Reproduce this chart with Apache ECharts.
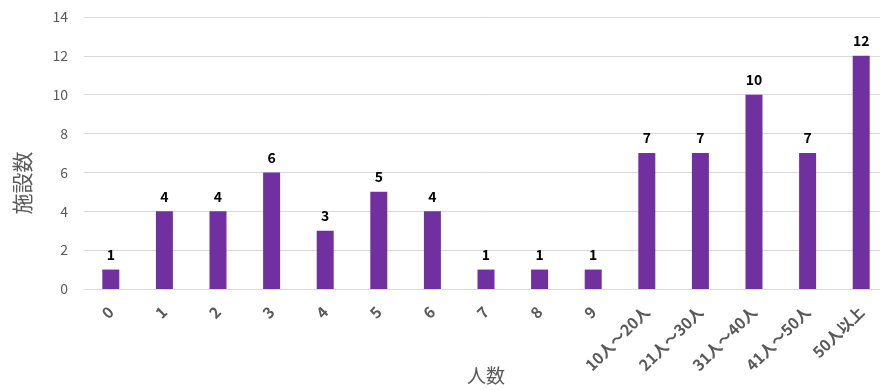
<!DOCTYPE html>
<html>
<head>
<meta charset="utf-8">
<script src="https://cdn.jsdelivr.net/npm/echarts@6/dist/echarts.min.js"></script>
<style>
  html, body { margin: 0; padding: 0; background: #fff; }
  #chart { width: 880px; height: 390px; }
</style>
</head>
<body>
<div id="chart"></div>
<script>
// 人数別の施設数
const categories = ['0', '1', '2', '3', '4', '5', '6', '7', '8', '9',
  '10人～20人', '21人～30人', '31人～40人', '41人～50人', '50人以上'];
const facilityCounts = [1, 4, 4, 6, 3, 5, 4, 1, 1, 1, 7, 7, 10, 7, 12];

const yMin = 0;
const yMax = 14;
const yStep = 2;

const xTitle = '人数';
const yTitle = '施設数';

const fontFamily = '"Noto Sans CJK JP", "Noto Sans", sans-serif';

const chart = echarts.init(document.getElementById('chart'), null, { renderer: 'canvas' });

chart.setOption({
  animation: false,
  backgroundColor: '#ffffff',
  textStyle: { fontFamily: fontFamily },
  grid: {
    left: 84, top: 17, width: 804, height: 272,
    containLabel: false,
    outerBoundsMode: 'none'
  },
  graphic: [
    // 縦軸タイトル（左に90度回転）
    {
      type: 'text',
      x: 22,
      y: 183,
      rotation: Math.PI / 2,
      style: {
        text: yTitle,
        fontSize: 21,
        fill: '#595959',
        fontFamily: fontFamily,
        align: 'center',
        verticalAlign: 'middle'
      }
    },
    // 横軸タイトル
    {
      type: 'text',
      x: 486,
      y: 376,
      style: {
        text: xTitle,
        fontSize: 19,
        fill: '#595959',
        fontFamily: fontFamily,
        align: 'center',
        verticalAlign: 'middle'
      }
    }
  ],
  xAxis: {
    type: 'category',
    data: categories,
    axisLine: { show: true, lineStyle: { color: '#d9d9d9', width: 1 } },
    axisTick: { show: false },
    axisLabel: {
      rotate: 45,
      interval: 0,
      margin: 20,
      fontSize: 15.5,
      fontWeight: 'bold',
      color: '#595959',
      fontFamily: fontFamily
    }
  },
  yAxis: {
    type: 'value',
    min: yMin,
    max: yMax,
    interval: yStep,
    axisLine: { show: false },
    axisTick: { show: false },
    axisLabel: { fontSize: 14, color: '#595959', margin: 16, fontFamily: fontFamily },
    splitLine: { show: true, lineStyle: { color: '#d9d9d9', width: 1 } }
  },
  series: [{
    type: 'bar',
    data: facilityCounts,
    barWidth: 17,
    itemStyle: { color: '#7030a0' },
    label: {
      show: true,
      position: 'top',
      distance: 8,
      fontSize: 14,
      fontWeight: 'bold',
      color: '#000000',
      fontFamily: fontFamily
    }
  }]
});
</script>
</body>
</html>
